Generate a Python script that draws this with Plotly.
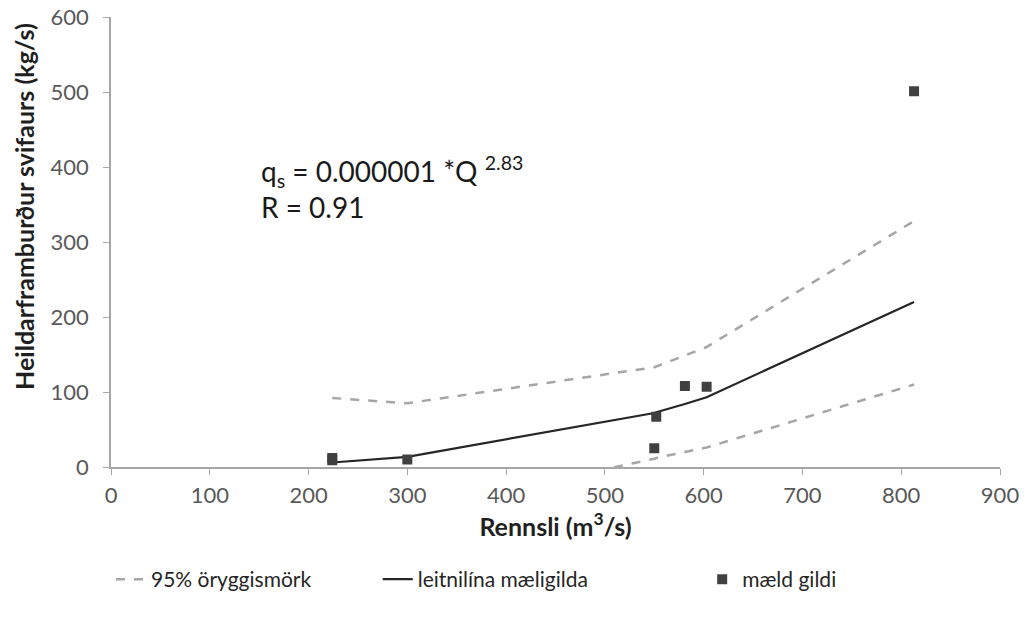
import plotly.graph_objects as go

# Measured sediment transport vs. discharge
rennsli = [224, 224, 300, 550, 552, 581, 603, 813]
svifaur = [12, 9, 10, 25, 67, 108, 107, 501]

# Fitted rating curve and 95% confidence limits at the measured discharges
fit_x = [224, 300, 550, 552, 581, 603, 813]
fit_y = [6, 13.5, 72, 73, 84, 93, 220]
upper_y = [92, 85, 133, 134, 148, 160, 328]
lower_y = [-80, -58, 11, 12, 20, 26, 110]

x_ticks = [0, 100, 200, 300, 400, 500, 600, 700, 800, 900]
y_ticks = [0, 100, 200, 300, 400, 500, 600]

FONT = "Lato"
GRAY_TXT = "#595959"
DARK_TXT = "#1f1f1f"

fig = go.Figure()

fig.add_trace(go.Scatter(
    x=fit_x, y=upper_y, mode="lines", name="95% öryggismörk",
    line=dict(color="#a6a6a6", width=2.5, dash="dash"),
    legend="legend", legendgroup="ci",
))
fig.add_trace(go.Scatter(
    x=fit_x, y=lower_y, mode="lines", name="95% öryggismörk",
    line=dict(color="#a6a6a6", width=2.5, dash="dash"),
    showlegend=False, legendgroup="ci",
))
fig.add_trace(go.Scatter(
    x=fit_x, y=fit_y, mode="lines", name="leitnilína mæligilda",
    line=dict(color="#262626", width=2.2),
    legend="legend2",
))
fig.add_trace(go.Scatter(
    x=rennsli, y=svifaur, mode="markers", name="mæld gildi",
    marker=dict(symbol="square", size=10, color="#404040"),
    legend="legend3", cliponaxis=False,
))

legend_common = dict(
    orientation="h", yanchor="middle", y=-0.25, xanchor="left",
    font=dict(family=FONT, size=21, color="#262626"),
    bgcolor="rgba(0,0,0,0)",
)

fig.update_layout(
    width=1026, height=633,
    margin=dict(l=111, r=26, t=17, b=166),
    paper_bgcolor="white", plot_bgcolor="white",
    font=dict(family=FONT, size=22, color=GRAY_TXT),
    legend=dict(x=0.0, **legend_common),
    legend2=dict(x=0.30, **legend_common),
    legend3=dict(x=0.665, **legend_common),
    xaxis=dict(
        range=[0, 900], tickvals=x_ticks, ticks="outside", ticklen=6,
        tickcolor="#a6a6a6", showline=True, linecolor="#a6a6a6", linewidth=1.5,
        showgrid=False, zeroline=False, ticklabelstandoff=2, automargin=False,
        tickfont=dict(family=FONT, size=22, color=GRAY_TXT),
        title=dict(text="<b>Rennsli (m<sup>3</sup>/s)</b>",
                   font=dict(family=FONT, size=25, color=DARK_TXT), standoff=6),
    ),
    yaxis=dict(
        range=[0, 600], tickvals=y_ticks, ticks="outside", ticklen=6,
        tickcolor="#a6a6a6", showline=True, linecolor="#a6a6a6", linewidth=1.5,
        showgrid=False, zeroline=False, ticklabelstandoff=10, automargin=False,
        tickfont=dict(family=FONT, size=22, color=GRAY_TXT),
    ),
)

# Y-axis title placed as a rotated annotation
fig.add_annotation(
    xref="paper", yref="paper", x=-0.098, y=0.58, xanchor="center", yanchor="middle",
    text="<b>Heildarframburður svifaurs (kg/s)</b>", textangle=-90,
    showarrow=False, font=dict(family=FONT, size=25, color=DARK_TXT),
)

fig.add_annotation(
    xref="paper", yref="paper", x=0.167, y=0.707, xanchor="left", yanchor="top",
    text="q<sub>s</sub> = 0.000001 *Q <sup>2.83</sup><br>R = 0.91",
    showarrow=False, align="left",
    font=dict(family=FONT, size=28, color="#1a1a1a"),
)

fig.write_html("out.html")
